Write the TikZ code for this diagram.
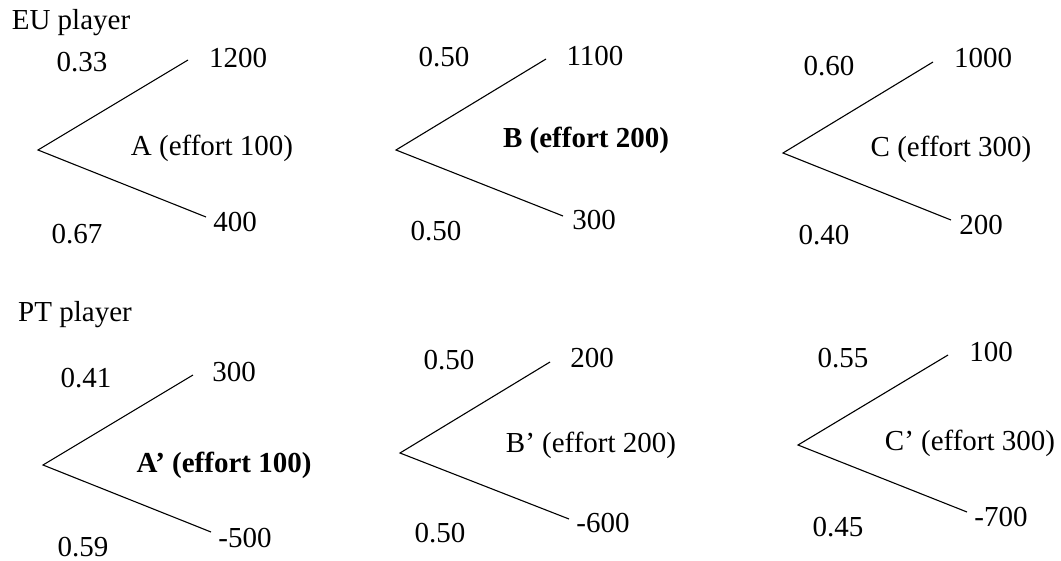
\documentclass[tikz,border=0pt]{standalone}
\usepackage{fontspec}
\setmainfont{Liberation Serif}
\usetikzlibrary{positioning}

\begin{document}
\begin{tikzpicture}[x=1pt, y=-1pt,
    branch/.style={line width=1.1pt},
    lbl/.style={inner sep=0pt, font=\fontsize{29}{34}\selectfont},
    best/.style={lbl, font=\fontsize{29}{34}\selectfont\bfseries}
]
    \useasboundingbox (0,0) rectangle (1061,560);

    % EU player
    \node[lbl] (eu) at (71,23) {EU player};

    % Lottery A
    \coordinate (a_root) at (38,150);
    \coordinate (a_up) at (188,60);
    \coordinate (a_dn) at (206,217);
    \node[lbl] (a_pu) at (82,62) {0.33};
    \node[lbl] (a_pd) at (77,234) {0.67};
    \node[lbl] (a_hi) at (238,58) {1200};
    \node[lbl] (a_lo) at (235,222) {400};
    \node[lbl] (a_name) at (212,148) {A (effort 100)};

    % Lottery B
    \coordinate (b_root) at (396,150);
    \coordinate (b_up) at (546,59);
    \coordinate (b_dn) at (563,216);
    \node[lbl] (b_pu) at (444,57) {0.50};
    \node[lbl] (b_pd) at (436,231) {0.50};
    \node[lbl] (b_hi) at (595,56) {1100};
    \node[lbl] (b_lo) at (594,220) {300};
    \node[best] (b_name) at (586,140) {B (effort 200)};

    % Lottery C
    \coordinate (c_root) at (783,153);
    \coordinate (c_up) at (933,62);
    \coordinate (c_dn) at (951,220);
    \node[lbl] (c_pu) at (829,66) {0.60};
    \node[lbl] (c_pd) at (824,235) {0.40};
    \node[lbl] (c_hi) at (983,58) {1000};
    \node[lbl] (c_lo) at (981,225) {200};
    \node[lbl] (c_name) at (951,149) {C (effort 300)};

    % PT player
    \node[lbl] (pt) at (75,315) {PT player};

    % Lottery A'
    \coordinate (a2_root) at (43,465);
    \coordinate (a2_up) at (193,375);
    \coordinate (a2_dn) at (211,532);
    \node[lbl] (a2_pu) at (86,378) {0.41};
    \node[lbl] (a2_pd) at (83,547) {0.59};
    \node[lbl] (a2_hi) at (234,372) {300};
    \node[lbl] (a2_lo) at (245,538) {-500};
    \node[best] (a2_name) at (224,465) {A’ (effort 100)};

    % Lottery B'
    \coordinate (b2_root) at (400,453);
    \coordinate (b2_up) at (550,362);
    \coordinate (b2_dn) at (569,519);
    \node[lbl] (b2_pu) at (449,360) {0.50};
    \node[lbl] (b2_pd) at (440,533) {0.50};
    \node[lbl] (b2_hi) at (592,358) {200};
    \node[lbl] (b2_lo) at (603,523) {-600};
    \node[lbl] (b2_name) at (591,445) {B’ (effort 200)};

    % Lottery C'
    \coordinate (c2_root) at (798,445);
    \coordinate (c2_up) at (948,355);
    \coordinate (c2_dn) at (967,512);
    \node[lbl] (c2_pu) at (843,358) {0.55};
    \node[lbl] (c2_pd) at (838,527) {0.45};
    \node[lbl] (c2_hi) at (991,352) {100};
    \node[lbl] (c2_lo) at (1001,517) {-700};
    \node[lbl] (c2_name) at (970,443) {C’ (effort 300)};

    % Branches
    \draw[branch] (a_up) -- (a_root) -- (a_dn);
    \draw[branch] (b_up) -- (b_root) -- (b_dn);
    \draw[branch] (c_up) -- (c_root) -- (c_dn);
    \draw[branch] (a2_up) -- (a2_root) -- (a2_dn);
    \draw[branch] (b2_up) -- (b2_root) -- (b2_dn);
    \draw[branch] (c2_up) -- (c2_root) -- (c2_dn);
\end{tikzpicture}
\end{document}
